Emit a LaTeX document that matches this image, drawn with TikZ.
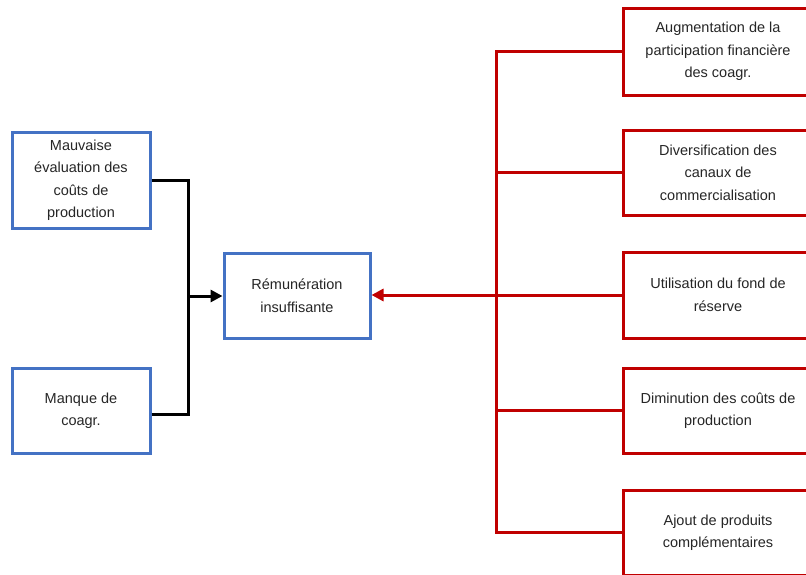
\documentclass[tikz,border=0pt]{standalone}
\usepackage{fontspec}
\setmainfont{Liberation Sans}
\usetikzlibrary{arrows.meta}
\definecolor{boxblue}{RGB}{68,114,196}
\definecolor{boxred}{RGB}{192,0,0}
\definecolor{txtgray}{RGB}{38,38,38}
\begin{document}
\begin{tikzpicture}[x=1pt,y=-1pt,
  txt/.style={align=center,font=\fontsize{14.5}{22.5}\selectfont,text=txtgray,inner sep=0pt},
  bluebox/.style={txt,draw=boxblue,line width=3pt,rectangle},
  redbox/.style={txt,draw=boxred,line width=3pt,rectangle,minimum width=190,minimum height=86},
  blackline/.style={draw=black,line width=3pt},
  redline/.style={draw=boxred,line width=3pt},
  tip/.style={-{Triangle[length=12pt,width=12pt]}}
]
\useasboundingbox (0,0) rectangle (806,574);
\clip (0,0) rectangle (806,574);
\fill[white] (0,0) rectangle (806,574);

\node[bluebox,minimum width=138,minimum height=96] (L1) at (81,180) {Mauvaise\\évaluation des\\coûts de\\production};
\node[bluebox,minimum width=138,minimum height=85] (L2) at (81,410.5) {Manque de\\coagr.};
\node[bluebox,minimum width=146,minimum height=85] (C) at (297,295.5) {Rémunération\\insuffisante};

\node[redbox,minimum height=87] (R1) at (718,51.5) {Augmentation de la\\participation financière\\des coagr.};
\node[redbox,minimum height=85] (R2) at (718,172.5) {Diversification des\\canaux de\\commercialisation};
\node[redbox] (R3) at (718,295) {Utilisation du fond de\\réserve};
\node[redbox,minimum height=85] (R4) at (718,410.5) {Diminution des coûts de\\production};
\node[redbox,minimum height=85] (R5) at (718,532.5) {Ajout de produits\\complémentaires};

\coordinate (jl) at (188,296);
\coordinate (jr) at (496,295);

\draw[blackline] (L1.east) -| (jl);
\draw[blackline] ([yshift=-4pt]L2.east) -| (jl);
\draw[blackline,tip] (jl) -- (C.west |- jl);

\draw[redline] (R1.west) -| (jr);
\draw[redline] (R2.west) -| (jr);
\draw[redline] (R4.west) -| (jr);
\draw[redline] (R5.west) -| (jr);
\draw[redline,tip] (R3.west) -- (C.east |- R3.west);
\end{tikzpicture}
\end{document}
